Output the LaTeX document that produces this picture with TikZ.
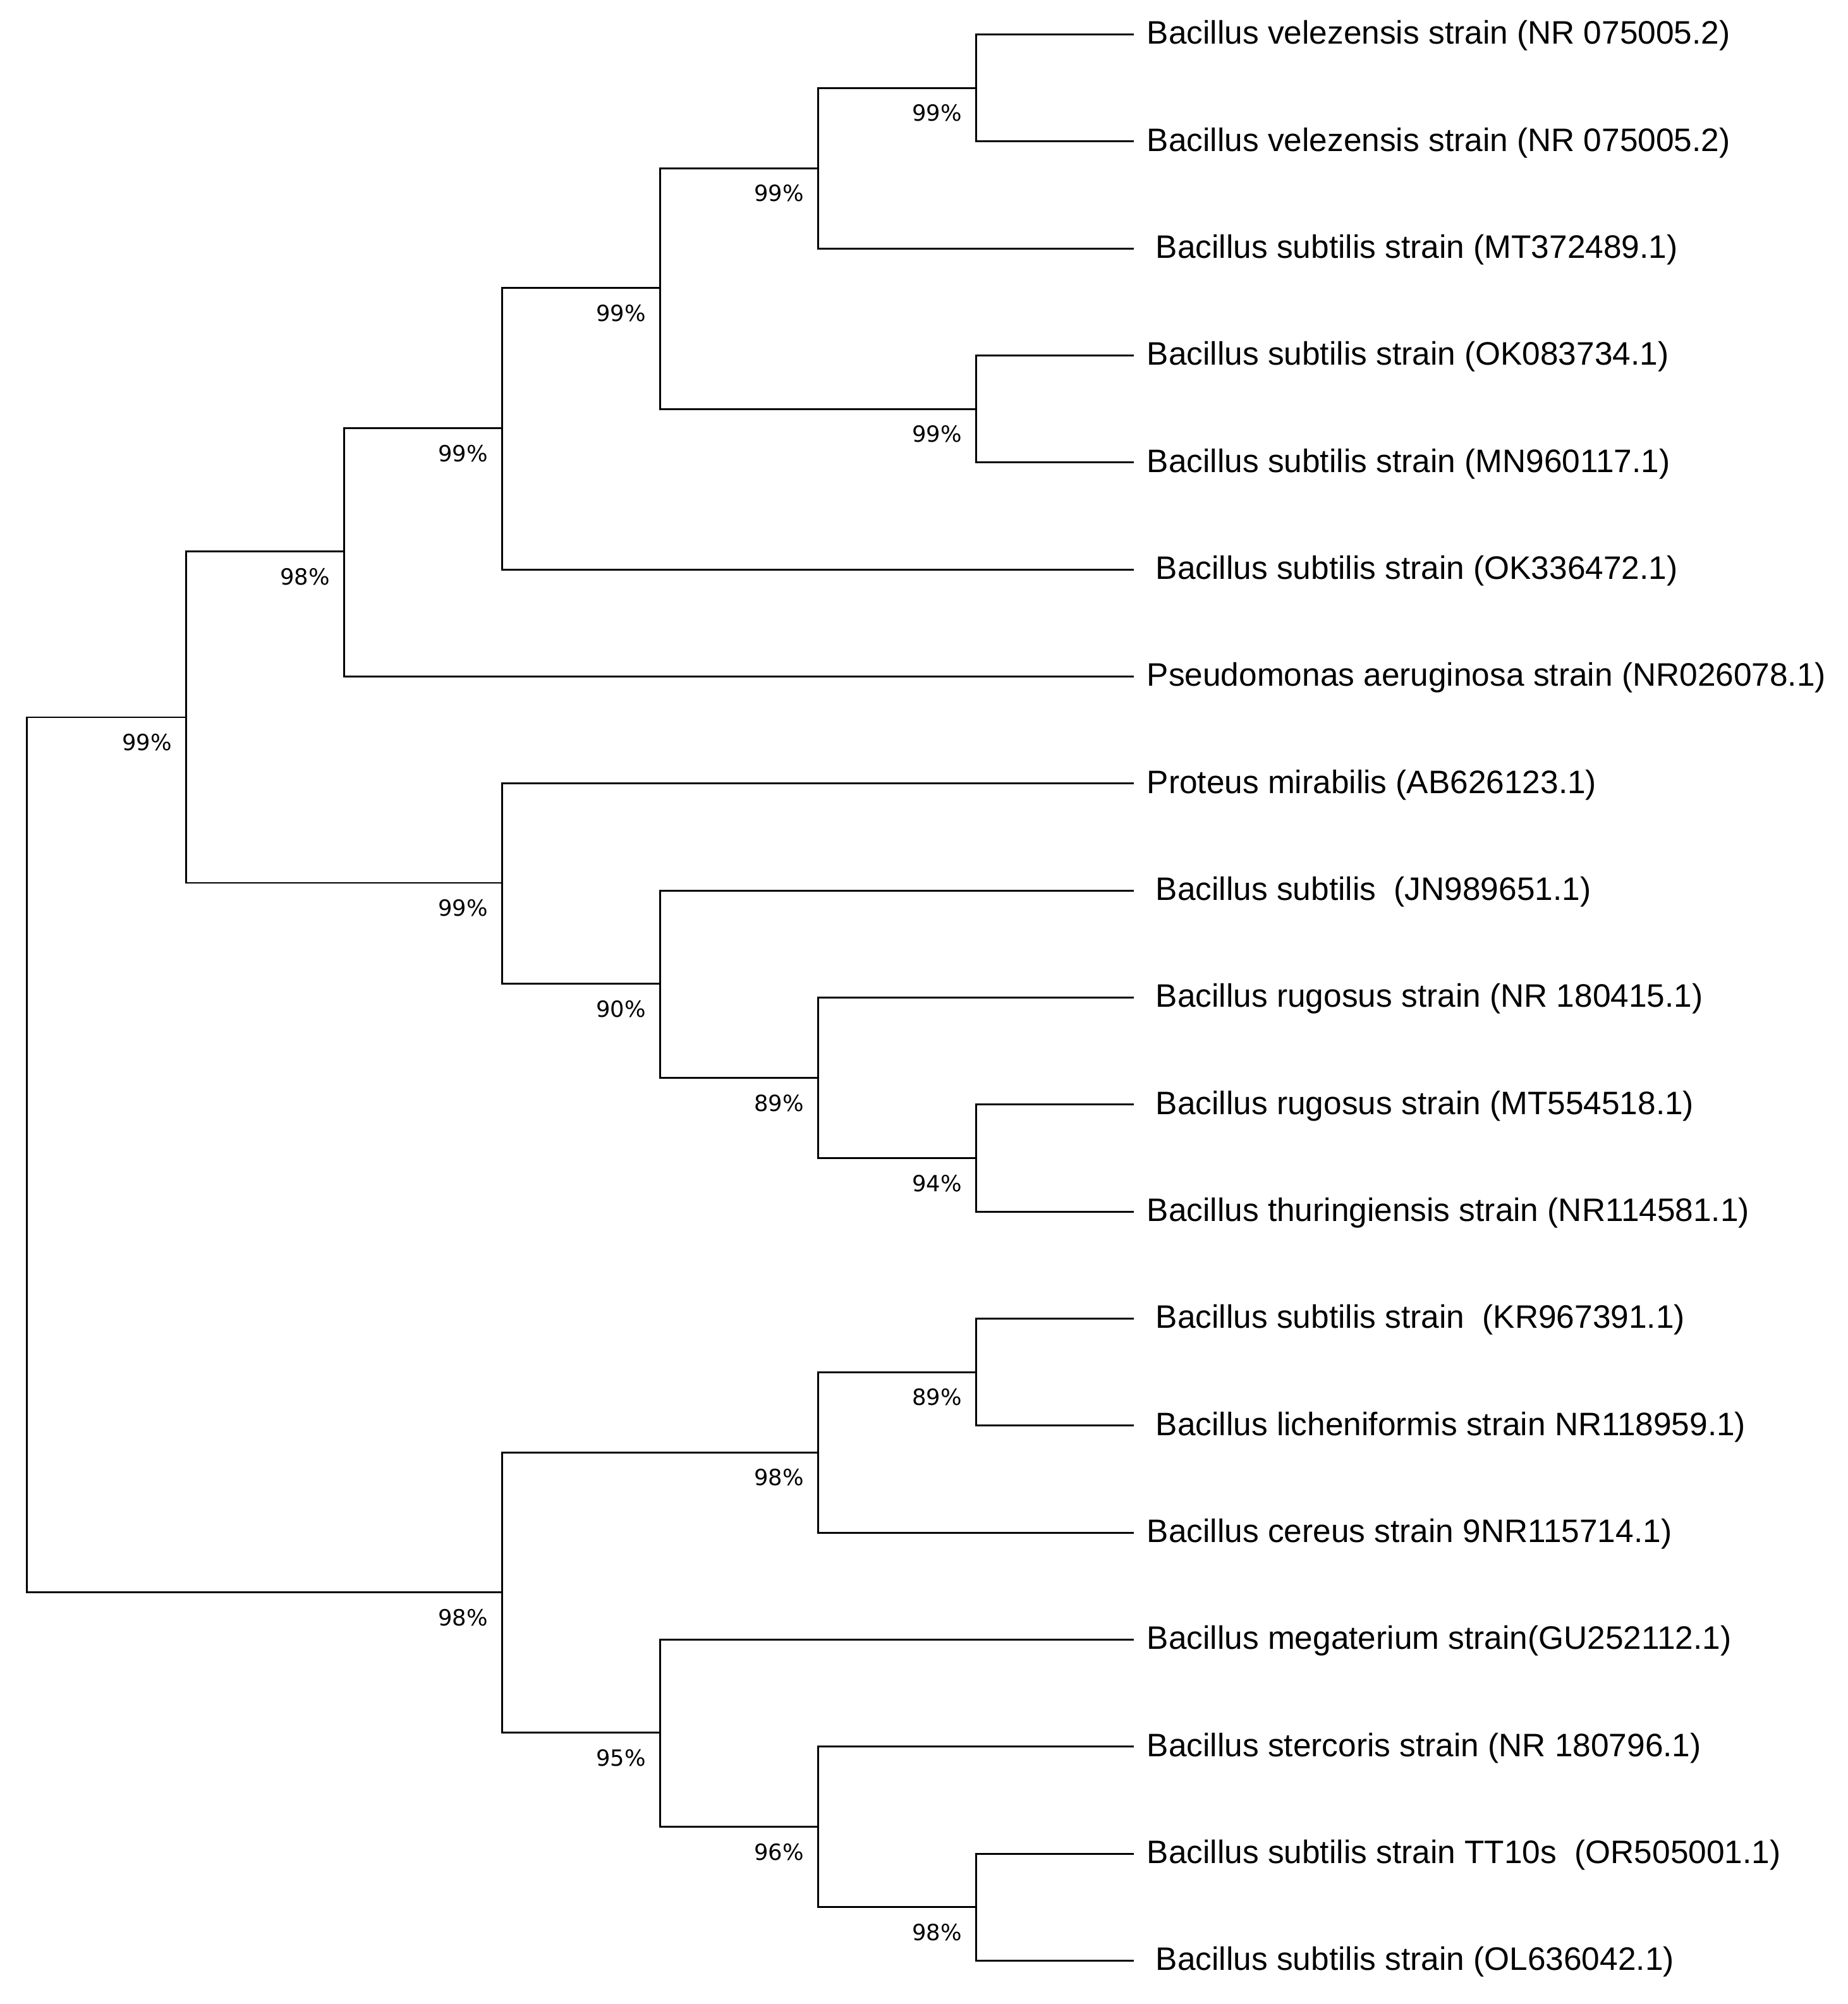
\documentclass[tikz,border=0pt]{standalone}
\usepackage{fontspec}
\setmainfont{Liberation Sans}
\newfontfamily\lblfont{DejaVu Sans}
\begin{document}
\begin{tikzpicture}[x=1pt,y=-1pt,
  br/.style={line width=1.4pt,black},
  leaf/.style={anchor=west,inner sep=0pt,font=\fontsize{25.5}{28}\selectfont},
  bs/.style={anchor=north east,inner sep=0pt,font=\lblfont\fontsize{17.5}{20}\selectfont}]
\useasboundingbox (0,0) rectangle (1450,1573);
% leaves
\foreach \i/\y/\dx/\t in {
 1/27/900/{Bacillus velezensis strain (NR 075005.2)},
 2/111/900/{Bacillus velezensis strain (NR 075005.2)},
 3/195/907/{Bacillus subtilis strain (MT372489.1)},
 4/279/900/{Bacillus subtilis strain (OK083734.1)},
 5/363/900/{Bacillus subtilis strain (MN960117.1)},
 6/447/907/{Bacillus subtilis strain (OK336472.1)},
 7/531/900/{Pseudomonas aeruginosa strain (NR026078.1)},
 8/615/900/{Proteus mirabilis (AB626123.1)},
 9/699/907/{Bacillus subtilis \ (JN989651.1)},
 10/783/907/{Bacillus rugosus strain (NR 180415.1)},
 11/867/907/{Bacillus rugosus strain (MT554518.1)},
 12/951/900/{Bacillus thuringiensis strain (NR114581.1)},
 13/1035/907/{Bacillus subtilis strain \ (KR967391.1)},
 14/1119/907/{Bacillus licheniformis strain NR118959.1)},
 15/1203/900/{Bacillus cereus strain 9NR115714.1)},
 16/1287/900/{Bacillus megaterium strain(GU252112.1)},
 17/1371/900/{Bacillus stercoris strain (NR 180796.1)},
 18/1455/900/{Bacillus subtilis strain TT10s \ (OR505001.1)},
 19/1539/907/{Bacillus subtilis strain (OL636042.1)}}
 {\coordinate (l\i) at (890,\y); \node[leaf] (t\i) at (\dx,\y+1) {\t};}
% internal nodes: name/x/y/label
\foreach \n/\x/\y/\b in {A/766/69/99, B/642/132/99, C/766/321/99, D/518/226/99,
 E/394/336/99, F/270/433/98, G/766/909/94, H/642/846/89, I/518/772/90,
 J/394/693/99, K/146/563/99, L/766/1077/89, M/642/1140/98, N/766/1497/98,
 O/642/1434/96, P/518/1360/95, Q/394/1250/98}
 {\coordinate (\n) at (\x,\y); \node[bs] (b\n) at (\x-11,\y+13) {\b\%};}
\coordinate (R) at (21,906);
\foreach \p/\a/\c in {A/l1/l2, B/A/l3, C/l4/l5, D/B/C, E/D/l6, F/E/l7,
 G/l11/l12, H/l10/G, I/l9/H, J/l8/I, K/F/J, L/l13/l14, M/L/l15,
 N/l18/l19, O/l17/N, P/l16/O, Q/M/P, R/K/Q}
 {\draw[br] (\a) -| (\p) |- (\c);}
\end{tikzpicture}
\end{document}
